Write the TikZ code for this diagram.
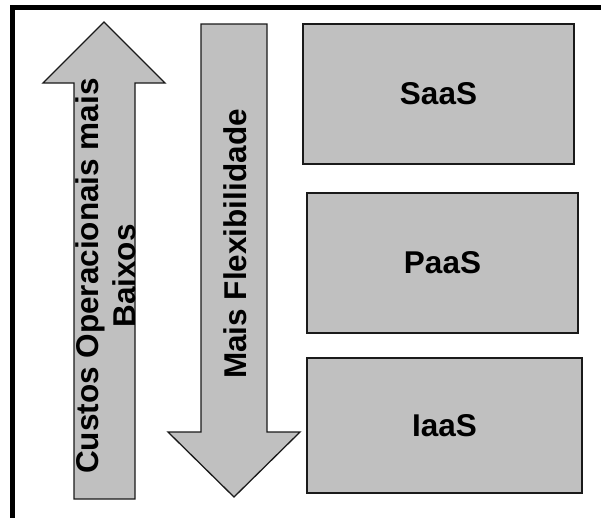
\documentclass[tikz,border=0pt]{standalone}
\usepackage{fontspec}
\setmainfont{Liberation Sans}
\definecolor{boxgray}{HTML}{C0C0C0}
\definecolor{edge}{HTML}{1A1A1A}
\begin{document}
\begin{tikzpicture}[x=1pt,y=-1pt,
  shapefill/.style={fill=boxgray,draw=edge,line width=1.3pt,line join=miter},
  layer/.style={shapefill,minimum width=#1,minimum height=140pt,inner sep=0pt,
    font=\fontsize{31.5}{37}\selectfont\bfseries},
  sidelabel/.style={rotate=90,inner sep=0pt,align=center,
    font=\fontsize{31.5}{37}\selectfont\bfseries}]
\useasboundingbox (0,0) rectangle (601,517);
% outer frame (only its top and left edges fall inside the page)
\begin{scope}
  \clip (0,0) rectangle (601,517);
  \draw[line width=5pt] (12.5,7.5) rectangle (640,560);
\end{scope}
% upward arrow
\draw[shapefill] (104,22) -- (165,83) -- (135,83) -- (135,499) -- (74,499)
  -- (74,83) -- (43,83) -- cycle;
% downward arrow
\draw[shapefill] (201,24) -- (267,24) -- (267,432) -- (300,432) -- (234,497)
  -- (168,432) -- (201,432) -- cycle;
% labels along the arrows
\node[sidelabel] (cost) at (106,276) {Custos Operacionais mais\\Baixos};
\node[sidelabel] (flex) at (235,244) {Mais Flexibilidade};
% service layers
\node[layer=271pt] (saas) at (438.5,94) {SaaS};
\node[layer=271pt] (paas) at (442.5,263) {PaaS};
\node[layer=275pt,minimum height=135pt] (iaas) at (444.5,425.5) {IaaS};
\end{tikzpicture}
\end{document}
